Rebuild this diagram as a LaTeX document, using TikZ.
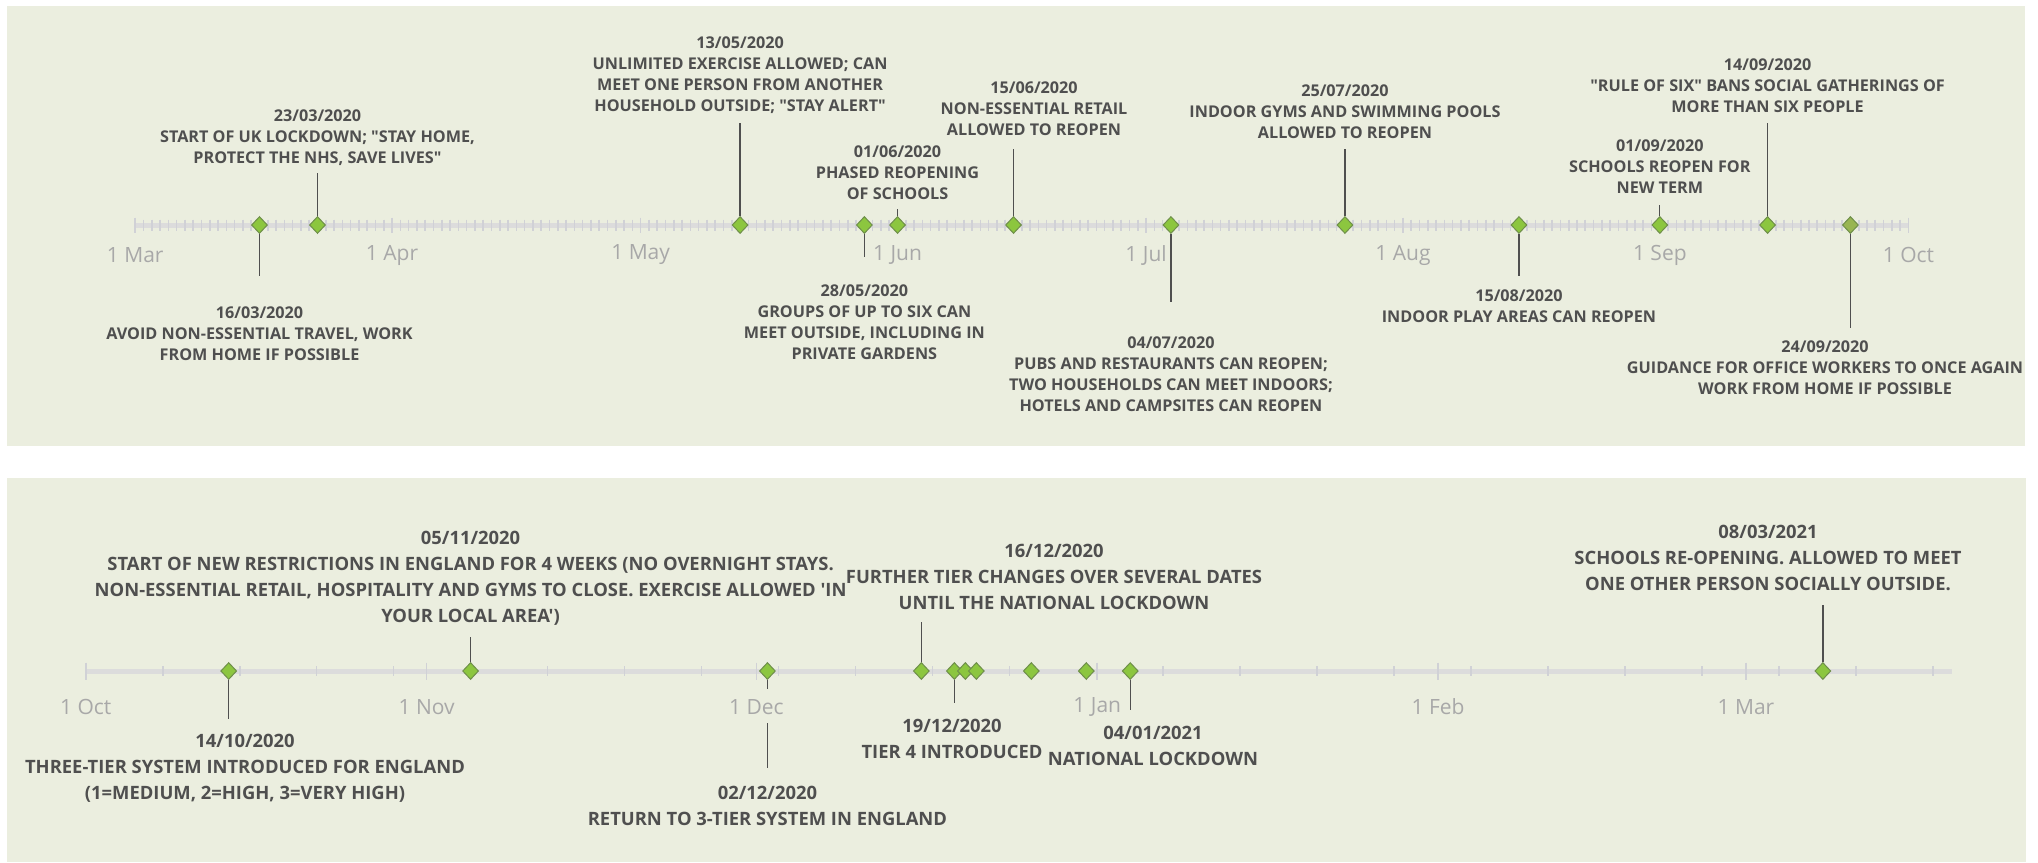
\documentclass[tikz,border=0pt]{standalone}
\usepackage{fontspec}
\setmainfont{Open Sans}
\newfontfamily\linefont{Open Sans}
\usetikzlibrary{shapes,positioning}
\definecolor{panel}{HTML}{EBEEDF}
\definecolor{axisgrey}{HTML}{DCDCDC}
\definecolor{tickgrey}{HTML}{D0D1D6}
\definecolor{textgrey}{HTML}{4F4F4F}
\definecolor{monthgrey}{HTML}{A8A8A8}
\definecolor{leaf}{HTML}{8CC63F}
\definecolor{leafline}{HTML}{6F8F4A}
\definecolor{oliveleaf}{HTML}{98B552}
% day -> x position on each axis
\newcommand{\topx}[1]{135.2+8.286*#1}
\newcommand{\botx}[1]{85.8+10.994*#1}

\begin{document}
\begin{tikzpicture}[x=0.5pt,y=-0.5pt]
    \tikzstyle{axis}=[draw=axisgrey, line width=2.5pt]
    \tikzstyle{tick}=[draw=tickgrey, line width=0.8pt]
    \tikzstyle{event}=[diamond, draw=leafline, fill=leaf, line width=0.5pt, minimum width=8pt, minimum height=8.5pt, inner sep=0]
    \tikzstyle{connect}=[draw=textgrey, line width=0.65pt]
    \tikzstyle{month}=[text=monthgrey, font=\linefont\fontsize{10.5}{12}\selectfont, inner sep=0]
    \tikzstyle{toptext}=[text=textgrey, font=\linefont\bfseries\fontsize{8.1}{10.5}\selectfont, align=center, anchor=north, inner sep=0]
    \tikzstyle{bottext}=[toptext, font=\linefont\bfseries\fontsize{9.2}{13}\selectfont]
    \useasboundingbox (0,0) rectangle (2038,862);
    \fill[panel] (7,6) rectangle (2025,446);
    \fill[panel] (7,478) rectangle (2026,862);

    % 2020 axis, Mar to Oct
    \draw[axis] ({\topx{0}},225) -- ({\topx{214}},225);
    \foreach \d in {0,...,214}
        \draw[tick] ({\topx{\d}},219.5) -- ++(0,11);
    \foreach \d/\m in {0/Mar,31/Apr,61/May,92/Jun,122/Jul,153/Aug,184/Sep,214/Oct} {
        \draw[tick] ({\topx{\d}},217.5) -- ++(0,15);
        \node[month] (t\m) at ({\topx{\d}},255) {1 \m};
    }

    % 2020/21 axis, Oct to Mar
    \draw[axis] ({\botx{0}},671) -- (1952,671);
    \foreach \d in {0,7,...,168}
        \draw[tick] ({\botx{\d}},666) -- ++(0,10);
    \foreach \d/\m in {0/Oct,31/Nov,61/Dec,92/Jan,123/Feb,151/Mar} {
        \draw[tick] ({\botx{\d}},662.5) -- ++(0,17);
        \node[month] (b\m) at ({\botx{\d}},707) {1 \m};
    }

    % events 2020
    \node[event] (e1603) at ({\topx{15}},225) {};
    \node[event] (e2303) at ({\topx{22}},225) {};
    \node[event] (e1305) at ({\topx{73}},225) {};
    \node[event] (e2805) at ({\topx{88}},225) {};
    \node[event] (e0106) at ({\topx{92}},225) {};
    \node[event] (e1506) at ({\topx{106}},225) {};
    \node[event] (e0407) at ({\topx{125}},225) {};
    \node[event] (e2507) at ({\topx{146}},225) {};
    \node[event] (e1508) at ({\topx{167}},225) {};
    \node[event] (e0109) at ({\topx{184}},225) {};
    \node[event] (e1409) at ({\topx{197}},225) {};
    \node[event,fill=oliveleaf] (e2409) at ({\topx{207}},225) {};

    \coordinate (l1603) at ({\topx{15}},276);
    \coordinate (l2303) at ({\topx{22}},173);
    \coordinate (l1305) at ({\topx{73}},123);
    \coordinate (l2805) at ({\topx{88}},257);
    \coordinate (l0106) at ({\topx{92}},209);
    \coordinate (l1506) at ({\topx{106}},149);
    \coordinate (l0407) at ({\topx{125}},302);
    \coordinate (l2507) at ({\topx{146}},149);
    \coordinate (l1508) at ({\topx{167}},276);
    \coordinate (l0109) at ({\topx{184}},205);
    \coordinate (l1409) at ({\topx{197}},123);
    \coordinate (l2409) at ({\topx{207}},328);
    \draw[connect] (e1603.south) -- (l1603);
    \draw[connect] (e2303.north) -- (l2303);
    \draw[connect] (e1305.north) -- (l1305);
    \draw[connect] (e2805.south) -- (l2805);
    \draw[connect] (e0106.north) -- (l0106);
    \draw[connect] (e1506.north) -- (l1506);
    \draw[connect] (e0407.south) -- (l0407);
    \draw[connect] (e2507.north) -- (l2507);
    \draw[connect] (e1508.south) -- (l1508);
    \draw[connect] (e0109.north) -- (l0109);
    \draw[connect] (e1409.north) -- (l1409);
    \draw[connect] (e2409.south) -- (l2409);

    \node[toptext] (t1603) at ({\topx{15}},306) {16/03/2020\\AVOID NON-ESSENTIAL TRAVEL, WORK\\FROM HOME IF POSSIBLE};
    \node[toptext] (t2303) at ({\topx{22}},109) {23/03/2020\\START OF UK LOCKDOWN; "STAY HOME,\\PROTECT THE NHS, SAVE LIVES"};
    \node[toptext] (t1305) at ({\topx{73}},36) {13/05/2020\\UNLIMITED EXERCISE ALLOWED; CAN\\MEET ONE PERSON FROM ANOTHER\\HOUSEHOLD OUTSIDE; "STAY ALERT"};
    \node[toptext] (t2805) at ({\topx{88}},284) {28/05/2020\\GROUPS OF UP TO SIX CAN\\MEET OUTSIDE, INCLUDING IN\\PRIVATE GARDENS};
    \node[toptext] (t0106) at ({\topx{92}},145) {01/06/2020\\PHASED REOPENING\\OF SCHOOLS};
    \node[toptext] (t1506) at (1034,81) {15/06/2020\\NON-ESSENTIAL RETAIL\\ALLOWED TO REOPEN};
    \node[toptext] (t0407) at ({\topx{125}},336) {04/07/2020\\PUBS AND RESTAURANTS CAN REOPEN;\\TWO HOUSEHOLDS CAN MEET INDOORS;\\HOTELS AND CAMPSITES CAN REOPEN};
    \node[toptext] (t2507) at ({\topx{146}},84) {25/07/2020\\INDOOR GYMS AND SWIMMING POOLS\\ALLOWED TO REOPEN};
    \node[toptext] (t1508) at ({\topx{167}},289) {15/08/2020\\INDOOR PLAY AREAS CAN REOPEN};
    \node[toptext] (t0109) at ({\topx{184}},139) {01/09/2020\\SCHOOLS REOPEN FOR\\NEW TERM};
    \node[toptext] (t1409) at ({\topx{197}},58) {14/09/2020\\"RULE OF SIX" BANS SOCIAL GATHERINGS OF\\MORE THAN SIX PEOPLE};
    \node[toptext] (t2409) at (1825,340) {24/09/2020\\GUIDANCE FOR OFFICE WORKERS TO ONCE AGAIN\\WORK FROM HOME IF POSSIBLE};

    % events 2020/21
    \node[event] (e1410) at ({\botx{13}},671) {};
    \node[event] (e0511) at ({\botx{35}},671) {};
    \node[event] (e0212) at ({\botx{62}},671) {};
    \node[event] (e1612) at ({\botx{76}},671) {};
    \node[event] (e1912) at ({\botx{79}},671) {};
    \node[event] (e2012) at ({\botx{80}},671) {};
    \node[event] (e2112) at ({\botx{81}},671) {};
    \node[event] (e2612) at ({\botx{86}},671) {};
    \node[event] (e3112) at ({\botx{91}},671) {};
    \node[event] (e0401) at ({\botx{95}},671) {};
    \node[event] (e0803) at ({\botx{158}},671) {};

    \coordinate (l1410) at ({\botx{13}},719);
    \coordinate (l0511) at ({\botx{35}},637);
    \coordinate (l0212) at ({\botx{62}},768);
    \coordinate (l1612) at ({\botx{76}},622);
    \coordinate (l1912) at ({\botx{79}},703);
    \coordinate (l0401) at ({\botx{95}},710);
    \coordinate (l0803) at ({\botx{158}},605);
    \draw[connect] (e1410.south) -- (l1410);
    \draw[connect] (e0511.north) -- (l0511);
    \draw[connect,shorten >=5pt] (e0212.south) -- (e0212 |- bDec.north);
    \draw[connect,shorten <=4pt] (e0212 |- bDec.south) -- (l0212);
    \draw[connect] (e1612.north) -- (l1612);
    \draw[connect] (e1912.south) -- (l1912);
    \draw[connect] (e0401.south) -- (l0401);
    \draw[connect] (e0803.north) -- (l0803);

    \node[bottext] (t1410) at (245,734) {14/10/2020\\THREE-TIER SYSTEM INTRODUCED FOR ENGLAND\\(1=MEDIUM, 2=HIGH, 3=VERY HIGH)};
    \node[bottext] (t0511) at ({\botx{35}},531) {05/11/2020\\START OF NEW RESTRICTIONS IN ENGLAND FOR 4 WEEKS (NO OVERNIGHT STAYS.\\NON-ESSENTIAL RETAIL, HOSPITALITY AND GYMS TO CLOSE. EXERCISE ALLOWED 'IN\\YOUR LOCAL AREA')};
    \node[bottext] (t0212) at ({\botx{62}},786) {02/12/2020\\RETURN TO 3-TIER SYSTEM IN ENGLAND};
    \node[bottext] (t1612) at (1054,544) {16/12/2020\\FURTHER TIER CHANGES OVER SEVERAL DATES\\UNTIL THE NATIONAL LOCKDOWN};
    \node[bottext] (t1912) at (952,719) {19/12/2020\\TIER 4 INTRODUCED};
    \node[bottext] (t0401) at (1153,726) {04/01/2021\\NATIONAL LOCKDOWN};
    \node[bottext] (t0803) at (1768,525) {08/03/2021\\SCHOOLS RE-OPENING. ALLOWED TO MEET\\ONE OTHER PERSON SOCIALLY OUTSIDE.};
\end{tikzpicture}
\end{document}
